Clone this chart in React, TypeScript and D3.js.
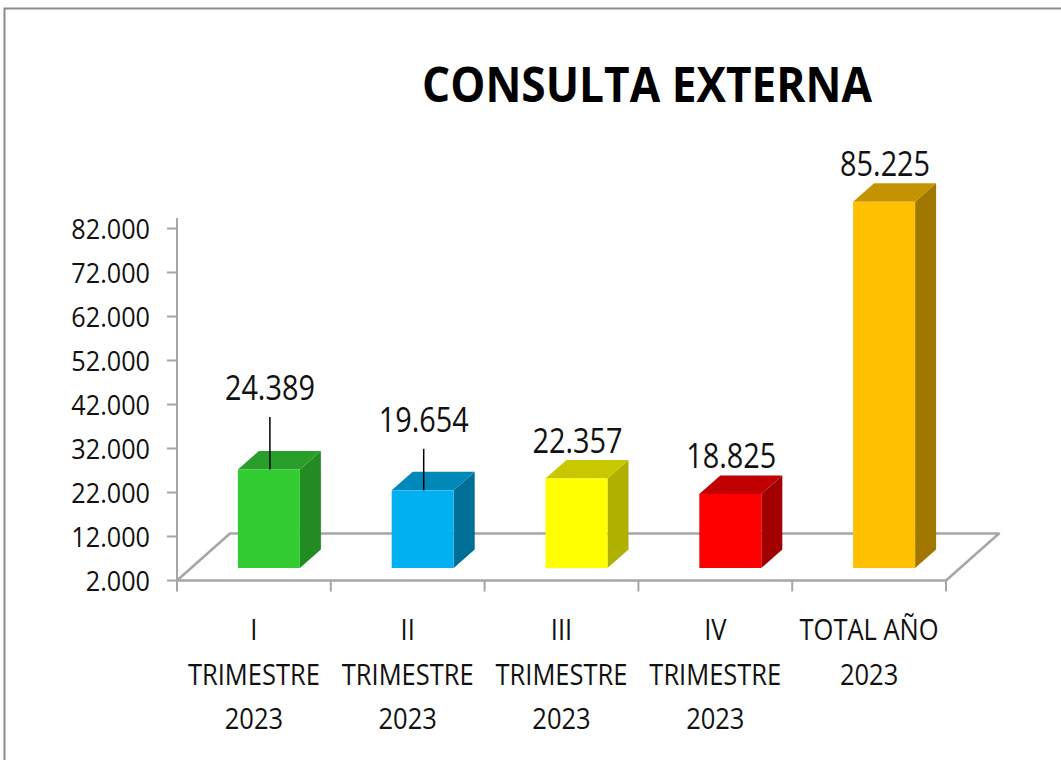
import React from "react";
import * as d3 from "d3";

const categories = ["I TRIMESTRE 2023", "II TRIMESTRE 2023", "III TRIMESTRE 2023", "IV TRIMESTRE 2023", "TOTAL AÑO 2023"];
const categoryLines = [
  ["I", "TRIMESTRE", "2023"],
  ["II", "TRIMESTRE", "2023"],
  ["III", "TRIMESTRE", "2023"],
  ["IV", "TRIMESTRE", "2023"],
  ["TOTAL AÑO", "2023"],
];
const values = [24389, 19654, 22357, 18825, 85225];
const yTicks = [2000, 12000, 22000, 32000, 42000, 52000, 62000, 72000, 82000];

// front / top / side shades for each bar
const colors = [
  ["#33cc33", "#2a9e2a", "#228b22"],
  ["#00b0f0", "#0088b8", "#006f98"],
  ["#ffff00", "#c8c800", "#b0b000"],
  ["#ff0000", "#c00000", "#a00000"],
  ["#ffc000", "#c49400", "#a07800"],
];

const fmt = (v: number) => d3.format(",")(v).replace(/,/g, ".");

const width = 1061;
const height = 760;
const font = "'Open Sans', sans-serif";

const x = d3.scaleBand().domain(categories).range([177, 946]);
const y = d3.scaleLinear().domain([2000, 82000]).range([580.5, 228.5]);

const floorDx = 53, floorDy = -47;
const x0 = 177, x1 = 946;
const yb = y(2000);

const barW = 62;
const frontDx = 15, frontDy = -12.5;
const sideDx = 21, sideDy = -18.5;
const leaders = [44, 33, 0, 0, 0];

const App = () => {
  const edges = categories.map((c) => x(c)!).concat([x1]);
  const grey = "#a6a6a6";

  return (
    <svg width={width} height={height} style={{ position: "absolute", left: 0, top: 0, background: "#fff" }}>
      <rect x={4.5} y={8.5} width={1100} height={800} fill="none" stroke="#8c8c8c" strokeWidth={2} />

      <text x={647} y={102} textAnchor="middle" fontFamily={font} fontWeight={700} fontSize={48}
        textLength={450} lengthAdjust="spacingAndGlyphs">CONSULTA EXTERNA</text>

      {/* floor */}
      <path d={`M${x0},${yb}L${x1},${yb}L${x1 + floorDx},${yb + floorDy}L${x0 + floorDx},${yb + floorDy}Z`}
        fill="#fff" stroke={grey} strokeWidth={2.5} strokeLinejoin="round" />

      {/* y axis */}
      <line x1={x0} x2={x0} y1={218} y2={yb} stroke={grey} strokeWidth={2} />
      {yTicks.map((d) => (
        <g key={d}>
          <line x1={x0 - 10} x2={x0} y1={y(d)} y2={y(d)} stroke={grey} strokeWidth={2} />
          <text transform={`translate(150,${y(d) + 10}) scale(0.9,1)`} textAnchor="end"
            fontFamily={font} fontSize={28} fill="#111">{fmt(d)}</text>
        </g>
      ))}

      {/* x ticks */}
      {edges.map((d, i) => (
        <line key={i} x1={d} x2={d} y1={yb} y2={yb + 11} stroke={grey} strokeWidth={2} />
      ))}

      {/* x labels */}
      {categoryLines.map((lines, i) => {
        const cx = x(categories[i])! + x.bandwidth() / 2;
        return lines.map((t, j) => (
          <text key={`${i}-${j}`} transform={`translate(${cx},${640 + j * 44.5}) scale(0.85,1)`}
            textAnchor="middle" fontFamily={font} fontSize={30} fill="#111">{t}</text>
        ));
      })}

      {/* bars */}
      {values.map((v, i) => {
        const [cFront, cTop, cSide] = colors[i];
        const left = x(categories[i])! + x.bandwidth() / 2 - barW / 2 + frontDx;
        const right = left + barW;
        const top = y(v) + frontDy;
        const bottom = yb + frontDy;
        const cx = left + barW / 2 + 1;
        const base = top + sideDy - 7 - leaders[i];
        return (
          <g key={i}>
            <path d={`M${right},${bottom}L${right + sideDx},${bottom + sideDy}L${right + sideDx},${top + sideDy}L${right},${top}Z`}
              fill={cSide} />
            <path d={`M${left},${top}L${left + sideDx},${top + sideDy}L${right + sideDx},${top + sideDy}L${right},${top}Z`}
              fill={cTop} />
            <rect x={left} y={top} width={barW} height={bottom - top} fill={cFront} />
            {leaders[i] > 0 && (
              <line x1={cx} x2={cx} y1={base + 17} y2={top} stroke="#000" strokeWidth={1.5} />
            )}
            <text x={cx} y={base} textAnchor="middle" fontFamily={font} fontSize={35} fill="#111"
              textLength={90} lengthAdjust="spacingAndGlyphs">{fmt(v)}</text>
          </g>
        );
      })}
    </svg>
  );
};

export default App;
